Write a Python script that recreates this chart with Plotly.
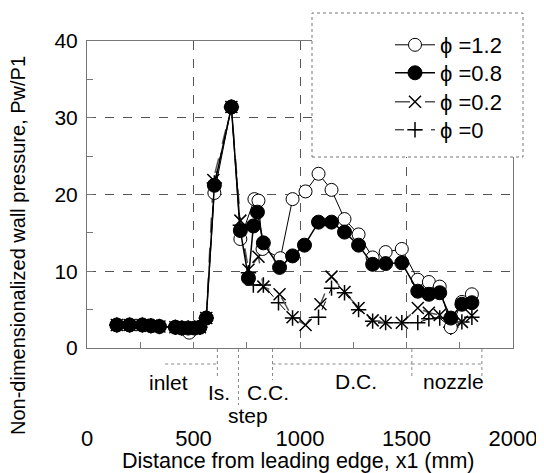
import plotly.graph_objects as go

# ---- data ----
x_12 = [140, 200, 260, 300, 340, 415, 445, 480, 505, 530, 560, 598, 678, 720, 786, 805, 824, 908,
        965, 1026, 1087, 1148, 1209, 1275, 1341, 1402, 1478, 1553, 1605, 1656, 1708, 1760, 1807]
y_12 = [3.0, 3.0, 3.0, 2.9, 2.8, 2.7, 2.6, 2.0, 2.6, 2.7, 3.9, 20.2, 31.4, 14.2, 19.4, 19.2, 12.9, 11.7,
        19.4, 20.4, 22.7, 20.6, 16.8, 14.8, 11.8, 12.5, 12.9, 8.9, 8.6, 8.0, 2.7, 6.0, 7.0]

x_08 = [140, 200, 260, 300, 340, 415, 445, 475, 505, 530, 560, 598, 678, 720, 758, 781, 800, 828,
        904, 965, 1021, 1087, 1148, 1209, 1275, 1341, 1402, 1478, 1553, 1605, 1656, 1708, 1760, 1807]
y_08 = [3.0, 3.0, 3.0, 2.9, 2.8, 2.7, 2.6, 2.6, 2.6, 2.7, 3.9, 21.2, 31.4, 15.3, 9.1, 15.9, 17.7, 13.7,
        10.5, 12.0, 13.4, 16.4, 16.4, 15.1, 13.4, 10.9, 11.0, 11.1, 7.4, 7.0, 7.2, 3.9, 5.7, 5.9]

x_02 = [140, 200, 260, 300, 340, 415, 445, 475, 505, 530, 560, 593, 678, 720, 758, 805, 828, 904,
        965, 1026, 1096, 1148, 1209, 1275, 1341, 1402, 1478, 1553, 1605, 1656, 1708, 1760, 1807]
y_02 = [3.0, 3.0, 3.0, 2.9, 2.8, 2.7, 2.6, 2.6, 2.6, 2.7, 3.9, 21.9, 31.4, 16.6, 10.2, 11.9, 8.0, 7.0,
        4.0, 3.0, 5.7, 9.3, 7.3, 5.2, 3.6, 3.3, 3.3, 5.2, 4.6, 4.3, 3.4, 3.4, 4.2]

x_00 = [140, 200, 260, 300, 340, 415, 445, 475, 505, 530, 560, 598, 678, 720, 758, 781, 828, 899,
        965, 1087, 1148, 1209, 1275, 1341, 1402, 1478, 1553, 1605, 1656, 1708, 1760, 1807]
y_00 = [3.0, 3.0, 3.0, 2.9, 2.8, 2.7, 2.6, 2.6, 2.6, 2.7, 3.9, 21.5, 31.4, 16.0, 9.8, 8.2, 8.2, 5.9,
        3.9, 4.0, 7.8, 7.2, 5.0, 3.5, 3.3, 3.3, 3.3, 3.8, 3.9, 2.7, 3.4, 4.0]

series_names = ["\u03d5 =1.2", "\u03d5 =0.8", "\u03d5 =0.2", "\u03d5 =0"]

x_ticks = [0, 500, 1000, 1500, 2000]
y_ticks = [0, 10, 20, 30, 40]

x_title = "Distance from leading edge, x1 (mm)"
y_title = "Non-dimensionalized wall pressure, Pw/P1"

# region labels below the axis
region_names = ["inlet", "Is.", "C.C.", "step", "D.C.", "nozzle"]
region_label_x = [381, 621, 852, 758, 1261, 1722]
region_edges = [367, 612, 711, 871, 1525, 1854]

FONT = "Liberation Sans, Arial, Helvetica, sans-serif"

# page body adds an 8px offset; plot-area geometry is expressed in screen pixels
OFF = 8
PL, PR, PT, PB = 87, 513, 41, 348  # plot area on screen
PW, PH = PR - PL, PB - PT


def px(p):
    return (p - PL) / PW


def py(p):
    return (PB - p) / PH


fig = go.Figure()

fig.add_trace(go.Scatter(
    x=x_00, y=y_00, name=series_names[3], mode="lines+markers", legend="legend4",
    line=dict(color="black", width=1, dash="dash"),
    marker=dict(symbol="cross-thin", size=11, color="black", line=dict(color="black", width=1.5))))

fig.add_trace(go.Scatter(
    x=x_02, y=y_02, name=series_names[2], mode="lines+markers", legend="legend3",
    line=dict(color="#555555", width=1.5, dash="longdash"),
    marker=dict(symbol="x-thin", size=12, color="black", line=dict(color="black", width=1.5))))

fig.add_trace(go.Scatter(
    x=x_12, y=y_12, name=series_names[0], mode="lines+markers", legend="legend",
    line=dict(color="black", width=1),
    marker=dict(symbol="circle", size=13, color="white", line=dict(color="black", width=1))))

fig.add_trace(go.Scatter(
    x=x_08, y=y_08, name=series_names[1], mode="lines+markers", legend="legend2",
    line=dict(color="black", width=1.5),
    marker=dict(symbol="circle", size=14, color="black", line=dict(color="black", width=1))))

shapes = []
# legend box
shapes.append(dict(type="rect", xref="paper", yref="paper",
                   x0=px(312), x1=px(523), y0=py(157), y1=py(13),
                   line=dict(color="#777777", width=1, dash="dot"),
                   fillcolor="white", layer="above"))

# region bracket lines
vert_bottom = [378, 378, 405, 380, 378, 378]
for e, b in zip(region_edges[1:], vert_bottom[1:]):
    shapes.append(dict(type="line", xref="x", yref="paper", x0=e, x1=e, y0=py(349), y1=py(b),
                       line=dict(color="#888888", width=1, dash="dot")))
for a, b in [(region_edges[0], region_edges[1]), (region_edges[3], region_edges[4]),
             (region_edges[4], region_edges[5])]:
    shapes.append(dict(type="line", xref="x", yref="paper", x0=a, x1=b, y0=py(364), y1=py(364),
                       line=dict(color="#888888", width=1, dash="dot")))

label_y = [382, 392, 392, 415, 381, 381]
annotations = []
for t, xv, yy in zip(region_names, region_label_x, label_y):
    annotations.append(dict(text=t, x=xv, y=py(yy), xref="x", yref="paper", showarrow=False,
                            font=dict(size=21, color="black", family=FONT),
                            xanchor="center", yanchor="middle", borderpad=0))

# axis titles
annotations.append(dict(text=y_title, x=px(18), y=py(246), xref="paper", yref="paper",
                        showarrow=False, textangle=-90, xanchor="center", yanchor="middle",
                        borderpad=0, font=dict(size=20, color="black", family=FONT)))
annotations.append(dict(text=x_title, x=px(298), y=py(461), xref="paper", yref="paper",
                        showarrow=False, xanchor="center", yanchor="middle", borderpad=0,
                        font=dict(size=21.5, color="black", family=FONT)))

legend_y = [45, 73, 102, 130]
legend_common = dict(xanchor="left", yanchor="middle", bgcolor="rgba(0,0,0,0)", borderwidth=0,
                     font=dict(size=22, family=FONT, color="black"), itemwidth=40)

W, H = 544 - OFF, 473 - OFF
fig.update_layout(
    width=W, height=H,
    margin=dict(l=PL - OFF, r=W - (PR - OFF), t=PT - OFF, b=H - (PB - OFF), autoexpand=False),
    paper_bgcolor="white", plot_bgcolor="white",
    font=dict(family=FONT, color="black", size=20),
    showlegend=True,
    legend=dict(x=px(390), y=py(legend_y[0]), **legend_common),
    legend2=dict(x=px(390), y=py(legend_y[1]), **legend_common),
    legend3=dict(x=px(390), y=py(legend_y[2]), **legend_common),
    legend4=dict(x=px(390), y=py(legend_y[3]), **legend_common),
    shapes=shapes,
    annotations=annotations,
)

fig.update_xaxes(
    range=[0, 2000], tickvals=x_ticks, ticktext=[str(v) for v in x_ticks],
    automargin=False,
    showgrid=True, gridcolor="#555555", griddash="dash", gridwidth=1,
    showline=True, linecolor="#777777", linewidth=1, mirror=True,
    ticks="inside", ticklen=6, tickcolor="#777777",
    minor=dict(dtick=250, ticks="inside", ticklen=6, tickcolor="#777777", showgrid=False),
    tickfont=dict(size=22, family=FONT, color="black"),
    ticklabelstandoff=71,
    zeroline=False,
)

fig.update_yaxes(
    range=[0, 40], tickvals=y_ticks, ticktext=[str(v) for v in y_ticks],
    automargin=False,
    showgrid=True, gridcolor="#555555", griddash="dash", gridwidth=1,
    showline=True, linecolor="#777777", linewidth=1, mirror=True,
    ticks="inside", ticklen=6, tickcolor="#777777",
    minor=dict(dtick=5, ticks="inside", ticklen=6, tickcolor="#777777", showgrid=False),
    tickfont=dict(size=21, family=FONT, color="black"),
    ticklabelstandoff=4,
    zeroline=False,
)

fig.write_html("out.html")
